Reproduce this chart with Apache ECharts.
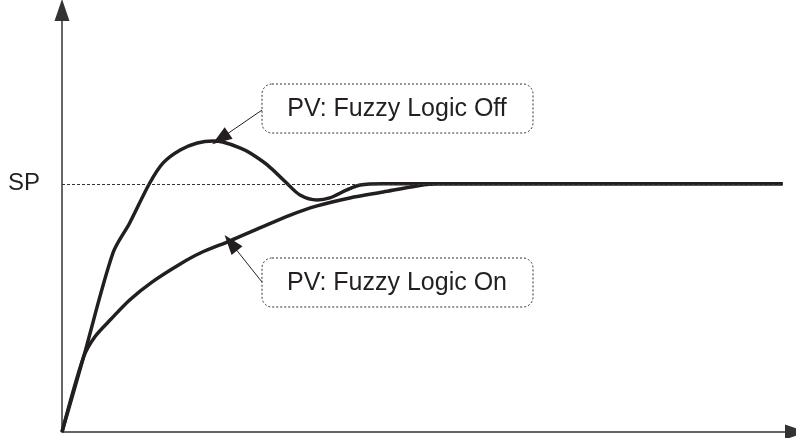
<!DOCTYPE html>
<html>
<head>
<meta charset="utf-8">
<script src="https://cdn.jsdelivr.net/npm/echarts@6/dist/echarts.min.js"></script>
<style>
  html, body { margin: 0; padding: 0; background: #fff; }
  #chart { width: 796px; height: 438px; }
</style>
</head>
<body>
<div id="chart"></div>
<script>
// time (0..~99) and process value (SP = 100)
var sp = 100;
var off_t = [0, 2.9, 6.85, 9.1, 11.8, 13.6, 15.9, 18.2, 20.3, 21.6, 24.0, 25.3, 27.6, 30.2, 32.0, 34.3, 36.0, 38.3, 40.1, 43.2, 96.9];
var off_v = [0, 30.2, 72.1, 84.2, 100.3, 108.4, 113.6, 116.4, 117.2, 116.8, 114.4, 112.4, 107.6, 100.3, 95.5, 93.5, 94.3, 97.5, 99.5, 100, 100];
var on_t = [0, 2.9, 4.4, 6.6, 9.1, 12.1, 15.9, 18.6, 22.6, 26.6, 30.7, 34.3, 38.7, 43.2, 47.7, 50.4, 96.9];
var on_v = [0, 30.2, 38.3, 45.5, 53.2, 60.4, 67.7, 72.1, 77.0, 82.2, 87.4, 91.1, 94.3, 96.7, 99.1, 100, 100];

// label boxes and where their pointers land
var offLabel = 'PV: Fuzzy Logic Off';
var onLabel = 'PV: Fuzzy Logic On';
var offArrow = [[26.9, 129.7], [21.3, 118.2]];
var onArrow = [[26.9, 60.4], [22.7, 76.2]];

function pairs(xs, ys) {
    var out = [];
    for (var i = 0; i < xs.length; i++) {
        out.push([xs[i], ys[i]]);
    }
    return out;
}

function arrow(p) {
    return [
        { coord: p[0], symbol: 'none' },
        { coord: p[1], symbol: 'triangle', symbolSize: [14, 20] }
    ];
}

function labelBox(y, text) {
    return {
        type: 'group',
        children: [
            {
                type: 'rect',
                shape: { x: 262, y: y, width: 271, height: 49, r: 10 },
                style: { fill: '#fff', stroke: '#333', lineWidth: 1, lineDash: [2, 2] }
            },
            {
                type: 'text',
                style: {
                    x: 397, y: y + 25, text: text,
                    align: 'center', verticalAlign: 'middle',
                    fontSize: 25, fontFamily: '"Liberation Sans", Arial, sans-serif',
                    fill: '#231f20'
                }
            }
        ]
    };
}

var myChart = echarts.init(document.getElementById('chart'));

var axisCommon = {
    type: 'value',
    min: 0,
    splitLine: { show: false },
    axisTick: { show: false },
    axisLabel: { show: false },
    axisLine: {
        show: true,
        symbol: ['none', 'triangle'],
        symbolSize: [15, 22],
        lineStyle: { color: '#333', width: 1.5 }
    }
};

var option = {
    animation: false,
    grid: { left: 62, right: 0, top: 10, bottom: 6 },
    xAxis: Object.assign({}, axisCommon, { max: 98.7 }),
    yAxis: Object.assign({}, axisCommon, { max: 170 }),
    series: [
        {
            name: offLabel,
            type: 'line',
            data: pairs(off_t, off_v),
            smooth: 0.3,
            showSymbol: false,
            lineStyle: { color: '#231f20', width: 3.5 },
            z: 3,
            markLine: {
                silent: true,
                label: { show: false },
                lineStyle: { color: '#231f20', width: 1, type: 'solid' },
                data: [
                    [
                        { coord: [0, sp], symbol: 'none',
                          lineStyle: { color: '#333', width: 1, type: [3, 2] },
                          label: { show: true, position: 'start', formatter: 'SP', distance: 22,
                                   fontSize: 24, color: '#231f20',
                                   fontFamily: '"Liberation Sans", Arial, sans-serif' } },
                        { coord: [96.9, sp], symbol: 'none' }
                    ],
                    arrow(offArrow)
                ]
            }
        },
        {
            name: onLabel,
            type: 'line',
            data: pairs(on_t, on_v),
            smooth: 0.3,
            showSymbol: false,
            lineStyle: { color: '#231f20', width: 3.5 },
            z: 3,
            markLine: {
                silent: true,
                label: { show: false },
                lineStyle: { color: '#231f20', width: 1, type: 'solid' },
                data: [arrow(onArrow)]
            }
        }
    ],
    graphic: [labelBox(84, offLabel), labelBox(258, onLabel)]
};

myChart.setOption(option);
</script>
</body>
</html>
